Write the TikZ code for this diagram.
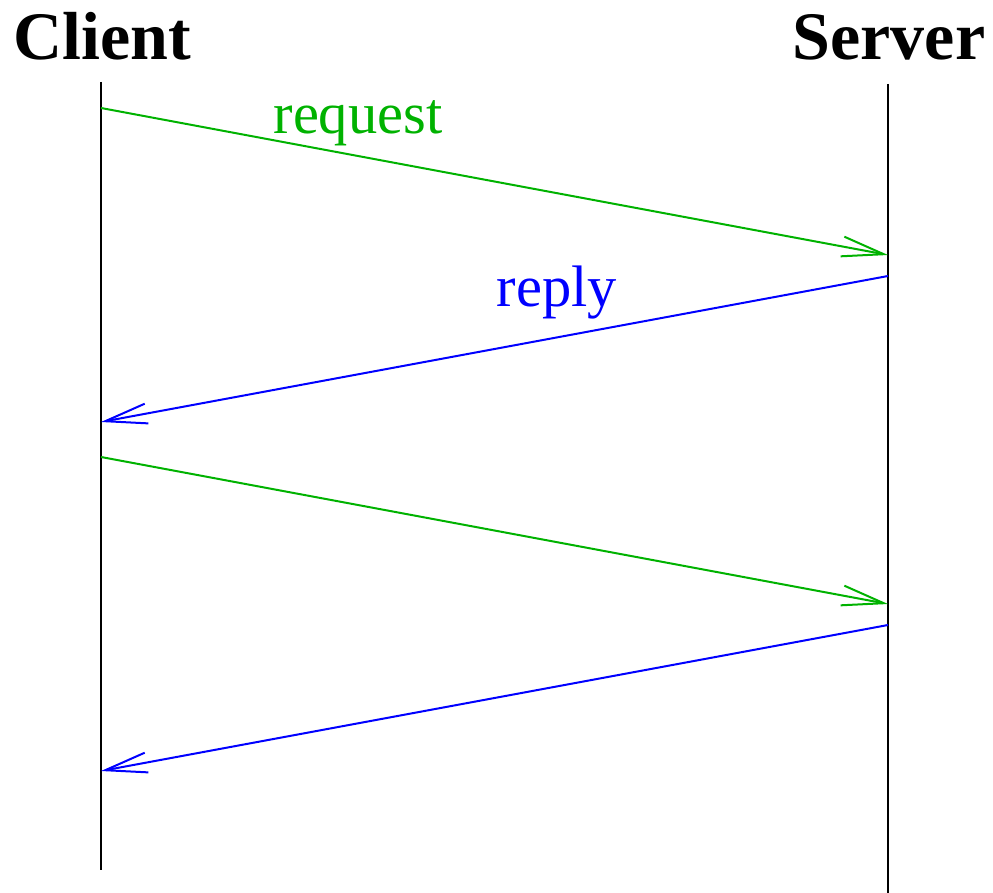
\documentclass[tikz,border=0pt]{standalone}
\usepackage{fontspec}
\setmainfont{Liberation Serif}
\usetikzlibrary{arrows.meta}

\definecolor{reqgreen}{RGB}{0,178,0}

\begin{document}
\begin{tikzpicture}[x=1pt, y=-1pt, line width=2pt,
        party/.style={font=\fontsize{68}{68}\selectfont\bfseries, anchor=base, inner sep=0pt},
        msglabel/.style={font=\fontsize{58.5}{58.5}\selectfont, anchor=base, inner sep=0pt},
        msg/.style={-{Straight Barb[length=42pt, width=20pt]}}]
        \useasboundingbox (0, 0) rectangle (993, 893);

        \node[party] (client) at (102, 60) {Client};
        \node[party] (server) at (889, 60) {Server};

        % lifelines
        \coordinate (ctop) at (101, 82);
        \coordinate (cbot) at (101, 870);
        \coordinate (stop) at (888, 84);
        \coordinate (sbot) at (888, 893);
        \draw (ctop) -- (cbot);
        \draw (stop) -- (sbot);

        % message end points
        \coordinate (c1) at (101, 108);
        \coordinate (s1) at (888, 255);
        \coordinate (s2) at (888, 276);
        \coordinate (c2) at (101, 422);
        \coordinate (c3) at (101, 457);
        \coordinate (s3) at (888, 604);
        \coordinate (s4) at (888, 625);
        \coordinate (c4) at (101, 771);

        \draw[msg, reqgreen] (c1) -- (s1);
        \draw[msg, blue] (s2) -- (c2);
        \draw[msg, reqgreen] (c3) -- (s3);
        \draw[msg, blue] (s4) -- (c4);

        \node[msglabel, text=reqgreen] (request) at (358, 134) {request};
        \node[msglabel, text=blue] (reply) at (557, 307) {reply};
    \end{tikzpicture}
\end{document}
